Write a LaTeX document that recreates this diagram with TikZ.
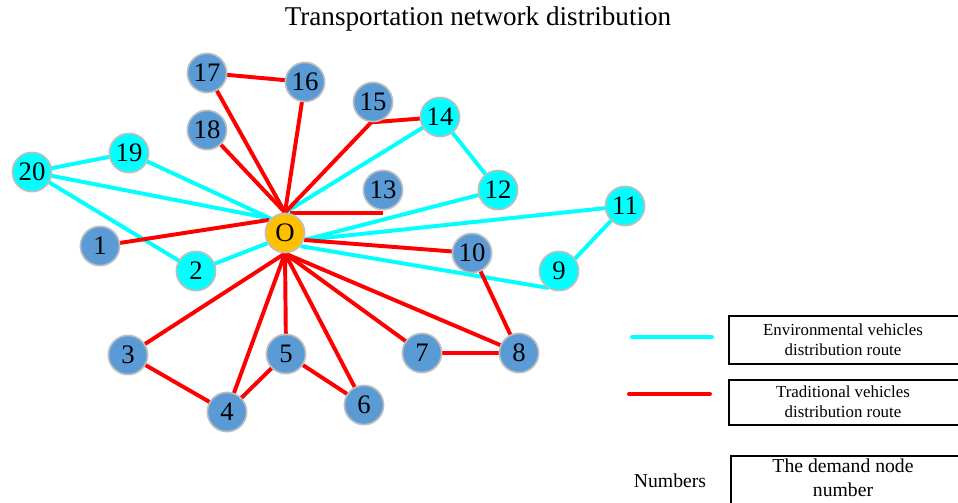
\documentclass[tikz,border=0pt]{standalone}
\usepackage{fontspec}
\setmainfont{Liberation Serif}
\usetikzlibrary{backgrounds}
\definecolor{envcyan}{RGB}{0,255,255}
\definecolor{tradred}{RGB}{255,0,0}
\definecolor{nodeblue}{RGB}{91,155,213}
\definecolor{depotorange}{RGB}{255,192,0}
\definecolor{rimgray}{RGB}{190,190,190}
\tikzset{
  envroute/.style  = { line width=2.8pt, envcyan },
  tradroute/.style = { line width=2.8pt, tradred },
  demand/.style    = { circle, draw=rimgray, line width=1.2pt, fill=nodeblue,
                       minimum size=0.98cm, inner sep=0pt, font=\fontsize{19}{19}\selectfont },
  envnode/.style   = { demand, fill=envcyan },
  depot/.style     = { demand, fill=depotorange },
  legendtext/.style = { align=center, font=\fontsize{12}{14}\selectfont }
}

\begin{document}
\begin{tikzpicture}[x=0.025cm,y=-0.025cm]
  \useasboundingbox (0,0) rectangle (958,502);
  % Title
  \node (title) at (478,19) {\fontsize{19.3}{22}\selectfont Transportation network distribution};
  % Draw all nodes
  \node[depot]   (O)  at (285,233) {O};
  \node[demand]  (n1) at (100,246) {1};
  \node[envnode] (n2) at (196,271) {2};
  \node[demand]  (n3) at (128,355) {3};
  \node[demand]  (n4) at (227,412) {4};
  \node[demand]  (n5) at (286,354) {5};
  \node[demand]  (n6) at (364,405) {6};
  \node[demand]  (n7) at (422,353) {7};
  \node[demand]  (n8) at (519,353) {8};
  \node[envnode] (n9) at (559,271) {9};
  \node[demand]  (n10) at (472,253) {10};
  \node[envnode] (n11) at (625,206) {11};
  \node[envnode] (n12) at (498,190) {12};
  \node[demand]  (n13) at (383,190) {13};
  \node[envnode] (n14) at (440,117) {14};
  \node[demand]  (n15) at (373,102) {15};
  \node[demand]  (n16) at (305,82) {16};
  \node[demand]  (n17) at (207,73) {17};
  \node[demand]  (n18) at (207,130) {18};
  \node[envnode] (n19) at (129,153) {19};
  \node[envnode] (n20) at (32,172) {20};
  % Draw routes behind the nodes
  \begin{pgfonlayer}{background}
    \draw[envroute] (n20.center) -- (n19.center) -- (O.135) -- (n20.center) -- (n2.center) -- (O.-150);
    \draw[envroute] (O.north) -- (n14.center) -- (n12.center) -- (O.-20);
    \draw[envroute] (O.-20) -- (n11.center) -- (n9.-125) -- (O.-40);
    \draw[tradroute] (n1.center) -- (O.140) (n18.center) -- (O.north);
    \draw[tradroute] (O.north) -- (n17.center) -- (n16.center) -- (O.north);
    \draw[tradroute] (O.north) -- (n15.-95) -- (n14.center);
    \draw[tradroute] (O.75) -- (n13.south |- O.75);
    \draw[tradroute] (O.-20) -- (n10.center) -- (n8.center) -- (O.south);
    \draw[tradroute] (O.south) -- (n7.center) -- (n8.center);
    \draw[tradroute] (O.south) -- (n6.center) -- (n5.center) -- (O.south);
    \draw[tradroute] (O.south) -- (n4.center) -- (n5.center);
    \draw[tradroute] (O.south) -- (n3.center) -- (n4.center);
  \end{pgfonlayer}
  % Draw legend
  \coordinate (envA) at (632,337);
  \coordinate (envB) at (712,337);
  \coordinate (tradA) at (629,394);
  \coordinate (tradB) at (710,394);
  \draw[envroute, line cap=round] (envA) -- (envB);
  \draw[tradroute, line cap=round] (tradA) -- (tradB);
  \draw[line width=0.9pt] (729,316) rectangle (966,364);
  \draw[line width=0.9pt] (729,380) rectangle (966,425);
  \draw[line width=0.9pt] (731,456) rectangle (966,510);
  \node[legendtext] (envtext) at (843,340) {Environmental vehicles\\distribution route};
  \node[legendtext] (tradtext) at (843,402) {Traditional vehicles\\distribution route};
  \node[legendtext, font=\fontsize{14}{17}\selectfont] (numtext) at (843,478) {The demand node\\number};
  \node[font=\fontsize{14}{17}\selectfont] (numlabel) at (670,481) {Numbers};
\end{tikzpicture}
\end{document}
